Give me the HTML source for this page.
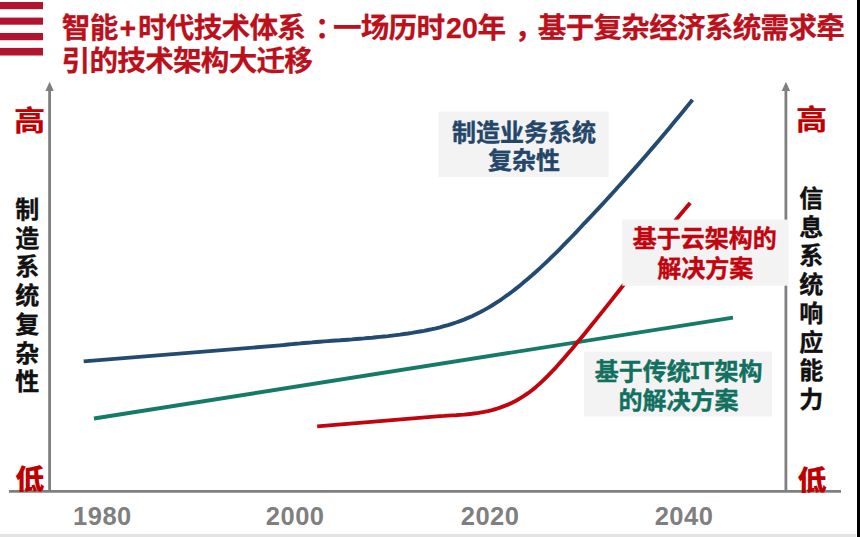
<!DOCTYPE html>
<html lang="zh-CN">
<head>
<meta charset="utf-8">
<title>智能+时代技术体系</title>
<style>
  html, body { margin: 0; padding: 0; background: #ffffff; }
  body { width: 860px; height: 537px; overflow: hidden; position: relative;
         font-family: "Liberation Sans", "Noto Sans CJK SC", sans-serif; }
  svg { position: absolute; left: 0; top: 0; display: block; }
  .cjk { font-family: "Liberation Sans", "Noto Sans CJK SC", sans-serif; font-weight: 700; }
  .title { font-size: 28.6px; fill: #bb111c; letter-spacing: -0.75px; stroke: #bb111c; stroke-width: 0.25px; }
  .hl { font-size: 28px; fill: #c00000; font-weight: 900; }
  .vt { font-size: 24px; fill: #111111; stroke: #111111; stroke-width: 0.35px; }
  .yr { font-family: "Liberation Sans", sans-serif; font-weight: 700; font-size: 25.5px; fill: #7f7f7f; letter-spacing: 0.5px; }
  .lb { font-size: 24px; stroke-width: 0.4px; }
</style>
</head>
<body>
<svg width="860" height="537" viewBox="0 0 860 537">
  <rect x="0" y="0" width="860" height="537" fill="#ffffff"/>
  <!-- bottom strip -->
  <rect x="0" y="533.9" width="856" height="3.1" fill="#e3e3e3"/>
  <!-- right edge strip -->
  <rect x="857" y="0" width="3" height="537" fill="#000000"/>

  <!-- logo bars -->
  <g fill="#b2132f">
    <rect x="0" y="2" width="43" height="7.2"/>
    <rect x="0" y="17.6" width="43" height="7.1"/>
    <rect x="0" y="33" width="43" height="7.2"/>
    <rect x="0" y="47.9" width="43" height="7.6"/>
  </g>

  <!-- title -->
  <g class="cjk title">
    <text y="37.5"><tspan x="61.8">智能</tspan><tspan x="127.9" text-anchor="middle" letter-spacing="0">+</tspan><tspan x="138">时代技术体系</tspan><tspan x="315" letter-spacing="0">：</tspan><tspan x="332.9">一场历时</tspan><tspan x="462" text-anchor="middle" letter-spacing="0">20</tspan><tspan x="477.5">年</tspan><tspan x="514.5" letter-spacing="0">，</tspan><tspan x="537.8">基于复杂经济系统需求牵</tspan></text>
    <text x="61.6" y="71.3">引的技术架构大迁移</text>
  </g>

  <!-- axes -->
  <g stroke="#7f7f7f" stroke-width="2.8" fill="none">
    <line x1="9" y1="491.3" x2="841" y2="491.3"/>
    <line x1="49.6" y1="90" x2="49.6" y2="491.3"/>
    <line x1="785.9" y1="90" x2="785.9" y2="491.3"/>
  </g>
  <g fill="#7f7f7f">
    <polygon points="49.6,81.8 53.8,91 45.4,91"/>
    <polygon points="785.9,81.8 790.1,91 781.7,91"/>
  </g>

  <!-- curves -->
  <g fill="none" stroke-linecap="butt" stroke-linejoin="round">
    <!-- green -->
    <path d="M94,418.5 L733,317.6" stroke="#167a68" stroke-width="3.9"/>
    <!-- blue -->
    <path d="M83.7,361.4 L280.0,345.4 L284.0,345.0 L288.0,344.5 L292.0,344.1 L296.0,343.7 L300.0,343.4 L304.0,343.0 L308.0,342.7 L312.0,342.4 L316.0,342.0 L320.0,341.7 L324.0,341.4 L328.0,341.1 L332.0,340.8 L336.0,340.5 L340.0,340.3 L344.0,340.0 L348.0,339.7 L352.0,339.4 L356.0,339.0 L360.0,338.7 L364.0,338.4 L368.0,338.0 L372.0,337.7 L376.0,337.3 L380.0,336.9 L384.0,336.5 L388.0,336.1 L392.0,335.6 L396.0,335.1 L400.0,334.6 L404.0,334.0 L408.0,333.5 L412.0,332.9 L416.0,332.2 L420.0,331.5 L424.0,330.8 L428.0,330.0 L432.0,329.2 L436.0,328.3 L440.0,327.3 L444.0,326.2 L448.0,325.1 L452.0,323.8 L456.0,322.5 L460.0,321.1 L464.0,319.6 L468.0,317.9 L472.0,316.2 L476.0,314.3 L480.0,312.3 L484.0,310.1 L488.0,307.9 L492.0,305.5 L496.0,302.9 L500.0,300.3 L504.0,297.5 L508.0,294.7 L512.0,291.7 L516.0,288.6 L520.0,285.4 L524.0,282.1 L528.0,278.7 L532.0,275.3 L536.0,271.7 L540.0,268.1 L544.0,264.4 L548.0,260.6 L552.0,256.7 L556.0,252.8 L560.0,248.8 L564.0,244.7 L568.0,240.6 L572.0,236.5 L576.0,232.3 L580.0,228.0 L584.0,223.7 L585.8,221.8 L589.8,217.6 L593.8,213.4 L597.8,209.1 L601.8,204.8 L605.8,200.5 L609.8,196.1 L613.8,191.7 L617.8,187.3 L621.8,182.9 L625.8,178.4 L629.8,173.9 L633.8,169.4 L637.8,164.9 L641.8,160.3 L645.8,155.7 L649.8,151.0 L653.8,146.4 L657.8,141.7 L661.8,137.0 L665.8,132.2 L669.8,127.4 L673.8,122.6 L677.8,117.8 L681.8,112.9 L685.8,108.1 L689.8,103.1 L692.5,99.8" stroke="#234a70" stroke-width="3.9"/>
    <!-- red -->
    <path d="M317.2,426.4 L440.0,416.1 L444.0,415.9 L448.0,415.6 L452.0,415.4 L456.0,415.2 L460.0,414.9 L464.0,414.6 L468.0,414.2 L472.0,413.8 L476.0,413.3 L480.0,412.6 L484.0,411.9 L488.0,411.1 L492.0,410.1 L496.0,409.0 L500.0,407.7 L504.0,406.2 L508.0,404.6 L512.0,402.8 L516.0,400.7 L520.0,398.4 L524.0,395.9 L528.0,393.2 L532.0,390.2 L536.0,386.9 L540.0,383.4 L544.0,379.6 L548.0,375.7 L552.0,371.5 L556.0,367.3 L560.0,362.8 L564.0,358.3 L568.0,353.6 L572.0,348.9 L576.0,344.1 L580.0,339.3 L584.0,334.4 L588.0,329.5 L592.0,324.6 L596.0,319.6 L600.0,314.6 L604.0,309.6 L608.0,304.6 L612.0,299.6 L616.0,294.5 L620.0,289.5 L624.0,284.4 L628.0,279.4 L632.0,274.3 L636.0,269.3 L640.0,264.2 L644.0,259.2 L648.0,254.2 L652.0,249.2 L656.0,244.2 L660.0,239.3 L664.0,234.4 L668.0,229.5 L672.0,224.6 L676.0,219.8 L680.0,215.0 L684.0,210.3 L688.0,205.6 L690.2,203.0" stroke="#c0050f" stroke-width="3.9"/>
  </g>

  <!-- label boxes -->
  <rect x="438.4" y="111.5" width="170.4" height="65.5" fill="#f3f3f4"/>
  <rect x="622.3" y="219.6" width="166.3" height="66.1" fill="#f3f3f4"/>
  <rect x="584" y="351.5" width="188" height="65" fill="#f3f3f4"/>

  <g class="cjk lb" text-anchor="middle">
    <text x="524" y="140.5" fill="#244668" stroke="#244668">制造业务系统</text>
    <text x="524" y="168.5" fill="#244668" stroke="#244668">复杂性</text>
    <text x="704.8" y="247.4" fill="#c0050f" stroke="#c0050f">基于云架构的</text>
    <text x="705.3" y="276.6" fill="#c0050f" stroke="#c0050f">解决方案</text>
    <text x="594.8" y="379.6" fill="#127060" stroke="#127060" text-anchor="start">基于传统</text>
    <text transform="translate(695,379) scale(0.72,1)" x="0" y="0" fill="#127060" stroke="#127060" text-anchor="middle" style="font-family:'Liberation Mono',monospace;font-weight:700">I</text>
    <text y="379.6" fill="#127060" stroke="#127060" text-anchor="start"><tspan x="699.5" dy="-0.6">T</tspan><tspan x="714.6" dy="0.6">架构</tspan></text>
    <text x="678.4" y="408.6" fill="#127060" stroke="#127060">的解决方案</text>
  </g>

  <!-- high / low -->
  <g class="cjk hl" text-anchor="middle">
    <text transform="translate(29.6,130.6) scale(1.09,0.985)" style="font-weight:700;font-size:28.6px;stroke:#c00000;stroke-width:0.25px">高</text>
    <text transform="translate(811.6,130.4) scale(1.09,0.985)" style="font-weight:700;font-size:28.6px;stroke:#c00000;stroke-width:0.25px">高</text>
    <text transform="translate(29.7,489.4) scale(1.04,0.97)">低</text>
    <text transform="translate(812,489.5) scale(1.04,0.97)">低</text>
  </g>

  <!-- vertical labels -->
  <g class="cjk vt" text-anchor="middle">
    <text x="27.2" y="218">制</text>
    <text x="27.2" y="246.7">造</text>
    <text x="27.2" y="275.4">系</text>
    <text x="27.2" y="304.1">统</text>
    <text x="27.2" y="332.8">复</text>
    <text x="27.2" y="361.5">杂</text>
    <text x="27.2" y="390.2">性</text>
  </g>
  <g class="cjk vt" text-anchor="middle">
    <text x="811.2" y="207">信</text>
    <text x="811.2" y="235.7">息</text>
    <text x="811.2" y="264.4">系</text>
    <text x="811.2" y="293.1">统</text>
    <text x="811.2" y="321.8">响</text>
    <text x="811.2" y="350.5">应</text>
    <text x="811.2" y="379.2">能</text>
    <text x="811.2" y="407.9">力</text>
  </g>

  <!-- years -->
  <g class="yr" text-anchor="middle">
    <text x="102.4" y="525">1980</text>
    <text x="295.2" y="525">2000</text>
    <text x="490.1" y="525">2020</text>
    <text x="684" y="525">2040</text>
  </g>
</svg>
</body>
</html>
